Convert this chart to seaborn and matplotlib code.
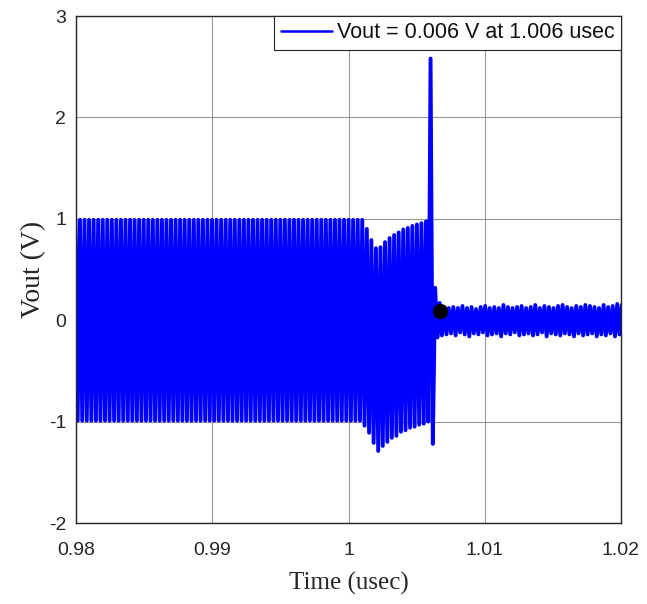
import numpy as np
import pandas as pd
import matplotlib
matplotlib.use("Agg")
import matplotlib.pyplot as plt
import seaborn as sns

# ---- data (one peak / one trough per cycle) ----
t_start = 0.979955      # usec, time of first peak
cycle_us = 0.0003342    # usec per oscillation cycle

steady_peaks = [0.99, 0.99, 0.99, 0.99, 0.99, 0.99, 0.99, 0.99, 0.99, 0.99,
                0.99, 0.99, 0.99, 0.99, 0.99, 0.99, 0.99, 0.99, 0.99, 0.99,
                0.99, 0.99, 0.99, 0.99, 0.99, 0.99, 0.99, 0.99, 0.99, 0.99,
                0.99, 0.99, 0.99, 0.99, 0.99, 0.99, 0.99, 0.99, 0.99, 0.99,
                0.99, 0.99, 0.99, 0.99, 0.99, 0.99, 0.99, 0.99, 0.99, 0.99,
                0.99, 0.99, 0.99, 0.99, 0.99, 0.99, 0.99, 0.99, 0.99, 0.99,
                0.99, 0.99]
steady_troughs = [-0.99, -0.99, -0.99, -0.99, -0.99, -0.99, -0.99, -0.99, -0.99, -0.99,
                  -0.99, -0.99, -0.99, -0.99, -0.99, -0.99, -0.99, -0.99, -0.99, -0.99,
                  -0.99, -0.99, -0.99, -0.99, -0.99, -0.99, -0.99, -0.99, -0.99, -0.99,
                  -0.99, -0.99, -0.99, -0.99, -0.99, -0.99, -0.99, -0.99, -0.99, -0.99,
                  -0.99, -0.99, -0.99, -0.99, -0.99, -0.99, -0.99, -0.99, -0.99, -0.99,
                  -0.99, -0.99, -0.99, -0.99, -0.99, -0.99, -0.99, -0.99, -0.99, -0.99,
                  -0.99, -0.99]

transition_peaks = [0.99, 0.99, 0.90, 0.79, 0.71, 0.72, 0.77, 0.81, 0.84, 0.865,
                    0.895, 0.91, 0.93, 0.944, 0.957, 0.974]
transition_troughs = [-0.99, -1.04, -1.11, -1.21, -1.29, -1.24, -1.20, -1.16, -1.14, -1.10,
                      -1.085, -1.06, -1.05, -1.03, -1.02, -1.00]

spike_peaks = [2.58]
spike_troughs = [-1.22]

post_peaks = [0.32, 0.17, 0.13, 0.12, 0.13, 0.12, 0.14, 0.12, 0.13, 0.11,
              0.13, 0.14, 0.12, 0.13, 0.12, 0.15, 0.13, 0.12, 0.13, 0.14,
              0.12, 0.13, 0.15, 0.12, 0.14, 0.13, 0.12, 0.14, 0.15, 0.13,
              0.12, 0.14, 0.13, 0.15, 0.14, 0.13, 0.12, 0.15, 0.13, 0.14,
              0.16, 0.15]
post_troughs = [-0.17, -0.15, -0.14, -0.13, -0.15, -0.12, -0.14, -0.16, -0.13, -0.14,
                -0.12, -0.15, -0.14, -0.13, -0.16, -0.13, -0.14, -0.12, -0.15, -0.14,
                -0.13, -0.15, -0.14, -0.12, -0.16, -0.13, -0.14, -0.15, -0.13, -0.14,
                -0.16, -0.13, -0.15, -0.14, -0.13, -0.16, -0.14, -0.15, -0.13, -0.16,
                -0.14, -0.15]

marker_time = 1.0067
marker_vout = 0.09
legend_label = "Vout = 0.006 V at 1.006 usec"

x_ticks = [0.98, 0.99, 1.0, 1.01, 1.02]
x_ticklabels = ["0.98", "0.99", "1", "1.01", "1.02"]
y_ticks = [-2, -1, 0, 1, 2, 3]
y_ticklabels = ["-2", "-1", "0", "1", "2", "3"]

# ---- build the waveform table ----
peaks = steady_peaks + transition_peaks + spike_peaks + post_peaks
troughs = steady_troughs + transition_troughs + spike_troughs + post_troughs
n = min(len(peaks), len(troughs))
times, values = [], []
for i in range(n):
    times.append(t_start + i * cycle_us)
    values.append(peaks[i])
    times.append(t_start + (i + 0.5) * cycle_us)
    values.append(troughs[i])
df = pd.DataFrame({"Time": times, "Vout": values})

# ---- plot ----
sns.set_theme(style="white")
plt.rcParams["font.family"] = ["Liberation Sans", "DejaVu Sans"]

fig = plt.figure(figsize=(6.47, 6.04), dpi=100)
ax = fig.add_axes([0.1175, 0.1341, 0.8423, 0.8394])

sns.lineplot(data=df, x="Time", y="Vout", sort=False, estimator=None,
             color="#0000ff", linewidth=2.8, ax=ax, label=legend_label)
ax.plot([marker_time], [marker_vout], "o", color="black", markersize=10, zorder=5)

ax.set_xlim(0.98, 1.02)
ax.set_ylim(-2, 3)
ax.set_xticks(x_ticks)
ax.set_xticklabels(x_ticklabels)
ax.set_yticks(y_ticks)
ax.set_yticklabels(y_ticklabels)
ax.tick_params(axis="x", direction="in", length=5, width=0.8, colors="#262626",
               labelsize=14, labelcolor="#262626", pad=14)
ax.tick_params(axis="y", direction="in", length=5, width=0.8, colors="#262626",
               labelsize=14, labelcolor="#262626", pad=7)
ax.grid(True, color="#7f7f7f", linewidth=0.8, alpha=0.8)
ax.set_axisbelow(True)
for s in ax.spines.values():
    s.set_color("#262626")
    s.set_linewidth(1.0)

ax.set_xlabel("Time (usec)", family=["Liberation Serif"], fontsize=18, color="#262626", labelpad=9)
ax.set_ylabel("Vout (V)", family=["Liberation Serif"], fontsize=20, color="#262626", labelpad=2)

leg = ax.legend(loc="upper right", fontsize=15.5, frameon=True, fancybox=False,
                borderaxespad=0.0, handlelength=2.4, handletextpad=0.2,
                borderpad=0.3, framealpha=1.0)
leg.get_frame().set_edgecolor("#262626")
leg.get_frame().set_linewidth(0.8)
for h in leg.get_lines():
    h.set_linewidth(1.8)
for t in leg.get_texts():
    t.set_color("#111111")

fig.savefig("out.png", dpi=100)
